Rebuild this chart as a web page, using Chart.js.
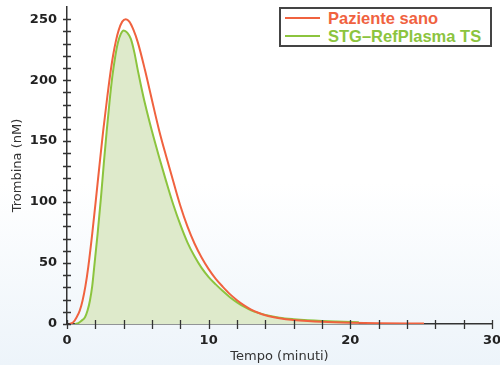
<!DOCTYPE html>
<html>
<head>
<meta charset="utf-8">
<script src="https://cdn.jsdelivr.net/npm/chart.js@4.4.1/dist/chart.umd.min.js"></script>
<style>
    html, body { margin: 0; padding: 0; }
    body {
        width: 500px;
        height: 365px;
        overflow: hidden;
        background: linear-gradient(to bottom, #ffffff 0%, #ffffff 50%, #edf4fa 100%);
    }
    #wrap { position: relative; width: 500px; height: 365px; overflow: hidden; }
    #wrap canvas { position: absolute; left: 0; top: 0; }
    #legend {
        position: absolute;
        left: 279px;
        top: 7px;
        width: 209px;
        height: 36px;
        border: 2px solid #444;
        background: #fff;
        font: bold 16.5px "Liberation Sans", Arial, sans-serif;
    }
    .legend-row { display: flex; align-items: center; height: 18px; line-height: 18px; }
    .legend-swatch { width: 35px; height: 2px; margin-left: 4px; margin-right: 8px; }
</style>
</head>
<body>
<div id="wrap">
    <canvas id="thrombinChart" width="512" height="365"></canvas>
    <div id="legend"></div>
</div>
<script>
    // curves (minutes, nM)
    const seriesNames = ['Paziente sano', 'STG\u2013RefPlasma TS'];

    const redTime = [0.2, 0.45, 0.68, 0.9, 1.1, 1.3, 1.5, 1.78, 2.04, 2.3, 2.55, 2.8, 3.03, 3.25, 3.45, 3.65, 3.9, 4.15,
        4.4, 4.7, 5.0, 5.5, 6.0, 6.5, 7.0, 7.5, 8.0, 8.5, 9.0, 9.5, 10, 10.5, 11, 11.5, 12, 12.5, 13, 13.5, 14,
        15, 16, 17, 18, 20, 22, 25.2];
    const redValue = [0, 1.5, 5.6, 11, 19.3, 31, 46.7, 74, 102, 131, 158, 182, 203, 220, 232, 241, 248, 250,
        248, 241, 231, 208.5, 183.5, 159, 137.5, 117, 97, 80, 66, 54.5, 45, 37, 30.5, 24.5, 19.5, 15.3, 11.8, 9.2, 7.2,
        4.8, 3.3, 2.4, 1.8, 1.1, 0.7, 0.4];

    const greenTime = [0.56, 0.8, 1.0, 1.27, 1.45, 1.62, 1.78, 1.92, 2.16, 2.4, 2.6, 2.8, 3.0, 3.2, 3.4, 3.6, 3.8, 4.0,
        4.25, 4.5, 4.75, 5.0, 5.25, 5.5, 6.0, 6.5, 7.0, 7.5, 8.0, 8.5, 9.0, 9.5, 10, 10.5, 11, 11.5, 12, 12.5,
        13, 13.5, 14, 15, 16, 17, 18, 19, 20.6];
    const greenValue = [0, 0.8, 2.5, 5.6, 11, 19.3, 31, 46.7, 74, 104, 132, 158, 182, 203, 219, 231, 238, 240.8,
        239, 234, 223, 208, 194, 181, 158, 137, 117, 98, 81.5, 67, 55.5, 46, 38.5, 32.5, 27, 22, 17.8, 14.2,
        11.2, 9.1, 7.5, 5.2, 3.9, 3, 2.4, 2, 1.5];

    const xMin = 0, xMax = 30, xStep = 2, xLabelEvery = 10;
    const yMin = 0, yMax = 260, yStep = 10, yLabelEvery = 50, yTickTop = 250;

    const redColor = '#f0623f';
    const greenColor = '#8cc43e';
    const greenFill = '#deeacb';
    const axisColor = '#333';

    function toPoints(xs, ys) {
        return xs.map((x, i) => ({ x: x, y: ys[i] }));
    }

    // tick marks that cross the axis lines
    const crossTicks = {
        id: 'crossTicks',
        afterDraw(chart) {
            const { ctx, chartArea, scales: { x, y } } = chart;
            ctx.save();
            ctx.strokeStyle = axisColor;
            ctx.lineWidth = 1.3;
            ctx.beginPath();
            x.ticks.forEach(t => {
                const px = Math.round(x.getPixelForValue(t.value)) + 0.5;
                ctx.moveTo(px, chartArea.bottom - 4);
                ctx.lineTo(px, chartArea.bottom + 5);
            });
            y.ticks.forEach(t => {
                if (t.value > yTickTop) return;
                const py = Math.round(y.getPixelForValue(t.value)) + 0.5;
                ctx.moveTo(chartArea.left - 4, py);
                ctx.lineTo(chartArea.left + 4, py);
            });
            ctx.stroke();
            ctx.restore();
        }
    };

    const ctx = document.getElementById('thrombinChart').getContext('2d');
    new Chart(ctx, {
        type: 'line',
        data: {
            datasets: [{
                label: seriesNames[0],
                data: toPoints(redTime, redValue),
                borderColor: redColor,
                borderWidth: 2,
                pointRadius: 0,
                fill: false,
                cubicInterpolationMode: 'monotone'
            }, {
                label: seriesNames[1],
                data: toPoints(greenTime, greenValue),
                borderColor: greenColor,
                backgroundColor: greenFill,
                borderWidth: 2,
                pointRadius: 0,
                fill: 'origin',
                cubicInterpolationMode: 'monotone'
            }]
        },
        options: {
            responsive: false,
            animation: false,
            devicePixelRatio: 1,
            layout: { padding: { top: 7, right: 20, bottom: 0, left: 0 } },
            plugins: {
                legend: { display: false },
                tooltip: { enabled: false }
            },
            scales: {
                x: {
                    type: 'linear',
                    min: xMin,
                    max: xMax,
                    grid: { display: false, drawTicks: false },
                    border: { display: true, color: axisColor, width: 1.5 },
                    ticks: {
                        stepSize: xStep,
                        autoSkip: false,
                        maxRotation: 0,
                        padding: 9,
                        color: '#222',
                        font: { family: 'DejaVu Sans', size: 13, weight: 'bold' },
                        callback: v => (v % xLabelEvery === 0 ? v : '')
                    },
                    title: {
                        display: true,
                        text: 'Tempo (minuti)',
                        color: '#333',
                        font: { family: 'DejaVu Sans', size: 13 },
                        padding: { top: 0, bottom: 1 }
                    },
                    afterFit: scale => { scale.height = 41; }
                },
                y: {
                    min: yMin,
                    max: yMax,
                    grid: { display: false, drawTicks: false },
                    border: { display: true, color: axisColor, width: 1.5 },
                    ticks: {
                        stepSize: yStep,
                        autoSkip: false,
                        padding: 10,
                        color: '#222',
                        font: { family: 'DejaVu Sans', size: 13, weight: 'bold' },
                        callback: v => (v % yLabelEvery === 0 && v <= yTickTop ? v : '')
                    },
                    title: {
                        display: true,
                        text: 'Trombina (nM)',
                        color: '#333',
                        font: { family: 'DejaVu Sans', size: 13 },
                        padding: { top: 10, bottom: 0 }
                    },
                    afterFit: scale => {
                        scale.width = 67;
                        scale.paddingTop = 0;
                        scale.paddingBottom = 0;
                    }
                }
            }
        },
        plugins: [crossTicks]
    });

    // legend box, top right
    const legendDiv = document.getElementById('legend');
    [redColor, greenColor].forEach((color, i) => {
        const row = document.createElement('div');
        row.className = 'legend-row';
        row.innerHTML = `<span class="legend-swatch" style="background:${color}"></span>` +
            `<span style="color:${color}">${seriesNames[i]}</span>`;
        legendDiv.appendChild(row);
    });
</script>
</body>
</html>
